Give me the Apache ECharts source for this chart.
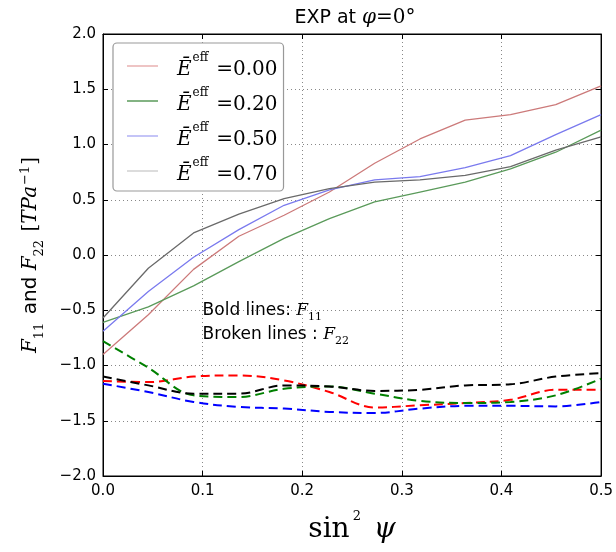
<!DOCTYPE html>
<html><head><meta charset="utf-8">
<script src="https://cdn.jsdelivr.net/npm/echarts@6/dist/echarts.min.js"></script>
<style>html,body{margin:0;padding:0;background:#fff}#c{width:616px;height:552px}</style>
</head><body><div id="c"></div>
<script>
// x values: sin^2 psi
var xs = [0, 0.0455, 0.0909, 0.1364, 0.1818, 0.2273, 0.2727, 0.3182, 0.3636, 0.4091, 0.4545, 0.5];
var effLabels = ['0.00', '0.20', '0.50', '0.70'];
// F11 (solid)
var f11_000 = [-0.90, -0.54, -0.13, 0.17, 0.36, 0.57, 0.83, 1.05, 1.22, 1.27, 1.36, 1.53];
var f11_020 = [-0.61, -0.47, -0.28, -0.06, 0.15, 0.33, 0.48, 0.57, 0.66, 0.78, 0.93, 1.13];
var f11_050 = [-0.69, -0.33, -0.02, 0.23, 0.45, 0.59, 0.68, 0.71, 0.79, 0.90, 1.09, 1.27];
var f11_070 = [-0.57, -0.12, 0.20, 0.37, 0.51, 0.60, 0.66, 0.68, 0.72, 0.80, 0.95, 1.07];
// F22 (dashed)
var f22_000 = [-1.14, -1.15, -1.10, -1.09, -1.135, -1.24, -1.38, -1.36, -1.34, -1.31, -1.22, -1.22];
var f22_020 = [-0.78, -1.02, -1.27, -1.285, -1.21, -1.19, -1.255, -1.32, -1.34, -1.33, -1.27, -1.12];
var f22_050 = [-1.165, -1.24, -1.33, -1.375, -1.39, -1.42, -1.43, -1.39, -1.365, -1.365, -1.37, -1.33];
var f22_070 = [-1.10, -1.18, -1.255, -1.255, -1.18, -1.19, -1.23, -1.22, -1.18, -1.17, -1.10, -1.07];
var yTicks = [-2.0, -1.5, -1.0, -0.5, 0.0, 0.5, 1.0, 1.5, 2.0];
var xTicks = [0.0, 0.1, 0.2, 0.3, 0.4, 0.5];

function pairs(ys){ return xs.map(function(x,i){ return [x, ys[i]]; }); }
var solidColors = ['#cc7a7a', '#5a9a5a', '#7a7aee', '#6a6a6a'];
var legendColors = ['#e8b0b0', '#5a9a5a', '#b0b0f4', '#d0d0d0'];
var dashColors = ['#ff0000', '#008000', '#0000ff', '#000000'];
var solidData = [f11_000, f11_020, f11_050, f11_070];
var dashData = [f22_000, f22_020, f22_050, f22_070];

var series = [];
solidData.forEach(function(d, i){
  series.push({ name: effLabels[i], type: 'line', data: pairs(d), symbol: 'none',
    lineStyle: { color: solidColors[i], width: 1.3 }, itemStyle: { color: solidColors[i] }, z: 3 });
});
dashData.forEach(function(d, i){
  series.push({ name: 'F22 ' + effLabels[i], type: 'line', data: pairs(d), symbol: 'none', smooth: 0.35,
    lineStyle: { color: dashColors[i], width: 2, type: [9, 5] }, itemStyle: { color: dashColors[i] }, z: 2 });
});

var serif = 'DejaVu Serif';
var sans = 'DejaVu Sans';
function fmt(v){ return v.toFixed(1).replace('-', '\u2212'); }

var chart = echarts.init(document.getElementById('c'), null, { renderer: 'canvas' });
chart.setOption({
  animation: false,
  backgroundColor: '#fff',
  title: {
    text: '{s|EXP at }{m|\u03c6}{n|=0\u00b0}',
    left: 350, top: 3, textAlign: 'center',
    textStyle: { fontWeight: 'normal', rich: {
      s: { fontFamily: sans, fontSize: 19, fontWeight: 'normal', color: '#000' },
      m: { fontFamily: serif, fontStyle: 'italic', fontSize: 20, fontWeight: 'normal', color: '#000' },
      n: { fontFamily: serif, fontSize: 20, fontWeight: 'normal', color: '#000' }
    } }
  },
  grid: { left: 103, right: 12, top: 34, bottom: 76, show: true, borderColor: '#000', borderWidth: 1 },
  legend: {
    orient: 'vertical', left: 113, top: 43,
    icon: 'rect',
    data: effLabels.map(function(n, i){ return { name: n, itemStyle: { color: legendColors[i] } }; }),
    itemWidth: 31, itemHeight: 1.5, itemGap: 7,
    padding: [9, 6, 6, 14],
    backgroundColor: '#fff', borderColor: '#999', borderWidth: 1.2, borderRadius: 4,
    formatter: function(n){ return '{e|\u0112}{s|eff}{v|=' + n + '}'; },
    textStyle: { rich: {
      e: { fontFamily: serif, fontStyle: 'italic', fontSize: 20, color: '#000', lineHeight: 28, verticalAlign: 'bottom', padding: [0, 0, 0, 14] },
      s: { fontFamily: serif, fontSize: 12, color: '#000', verticalAlign: 'top', padding: [0, 8, 0, 1] },
      v: { fontFamily: serif, fontSize: 20, color: '#000', lineHeight: 28, verticalAlign: 'bottom' }
    } }
  },
  xAxis: [{
    type: 'value', min: 0, max: 0.5, interval: 0.1,
    axisLine: { show: true, onZero: false, lineStyle: { color: '#000' } },
    axisTick: { show: true, inside: true, length: 5, lineStyle: { color: '#000' } },
    axisLabel: { formatter: fmt, fontFamily: sans, fontSize: 15, color: '#000', margin: 8 },
    splitLine: { show: true, lineStyle: { color: '#888', type: [1, 3], width: 1 } },
    name: '{r|sin}{p|2}{i| \u03c8}', nameLocation: 'middle', nameGap: 34,
    nameTextStyle: { rich: {
      r: { fontFamily: serif, fontSize: 28, color: '#000', verticalAlign: 'bottom', lineHeight: 34 },
      p: { fontFamily: serif, fontSize: 13, color: '#000', verticalAlign: 'top', padding: [0, 4, 0, 3] },
      i: { fontFamily: serif, fontStyle: 'italic', fontSize: 28, color: '#000', verticalAlign: 'bottom', lineHeight: 34 }
    } }
  }, {
    type: 'value', min: 0, max: 0.5, interval: 0.1, position: 'top',
    axisLine: { show: true, onZero: false, lineStyle: { color: '#000' } },
    axisTick: { show: true, inside: true, length: 5, lineStyle: { color: '#000' } },
    axisLabel: { show: false }, splitLine: { show: false }
  }],
  yAxis: [{
    type: 'value', min: -2, max: 2, interval: 0.5,
    axisLine: { show: true, onZero: false, lineStyle: { color: '#000' } },
    axisTick: { show: true, inside: true, length: 5, lineStyle: { color: '#000' } },
    axisLabel: { formatter: fmt, fontFamily: sans, fontSize: 15, color: '#000', margin: 7 },
    splitLine: { show: true, lineStyle: { color: '#888', type: [1, 3], width: 1 } },
    name: '{f|F}{b|11}{t| and }{f|F}{b|22}{g| [}{f|TPa}{p|\u22121}{g|]}',
    nameLocation: 'middle', nameRotate: 90, nameGap: 57,
    nameTextStyle: { rich: {
      f: { fontFamily: serif, fontStyle: 'italic', fontSize: 20, color: '#000', lineHeight: 30, verticalAlign: 'middle' },
      g: { fontFamily: serif, fontSize: 20, color: '#000', lineHeight: 30, verticalAlign: 'middle' },
      t: { fontFamily: sans, fontSize: 20, color: '#000', lineHeight: 30, verticalAlign: 'middle' },
      b: { fontFamily: serif, fontSize: 13, color: '#000', verticalAlign: 'bottom', padding: [0, 2, 0, 0] },
      p: { fontFamily: serif, fontSize: 13, color: '#000', verticalAlign: 'top', padding: [3, 1, 0, 1] }
    } }
  }, {
    type: 'value', min: -2, max: 2, interval: 0.5, position: 'right',
    axisLine: { show: true, onZero: false, lineStyle: { color: '#000' } },
    axisTick: { show: true, inside: true, length: 5, lineStyle: { color: '#000' } },
    axisLabel: { show: false }, splitLine: { show: false }
  }],
  series: series
});

// annotation anchored at data coordinates
var p1 = chart.convertToPixel({ xAxisIndex: 0, yAxisIndex: 0 }, [0.1, -0.5]);
chart.setOption({
  graphic: [{
    type: 'text', left: p1[0], top: p1[1] - 8, z: 10,
    style: {
      text: '{s|Bold lines: }{f|F}{b|11}\n{s|Broken lines : }{f|F}{b|22}',
      rich: {
        s: { fontFamily: sans, fontSize: 17, fill: '#000', lineHeight: 24, verticalAlign: 'middle' },
        f: { fontFamily: serif, fontStyle: 'italic', fontSize: 17, fill: '#000', lineHeight: 24, verticalAlign: 'middle' },
        b: { fontFamily: serif, fontSize: 11, fill: '#000', verticalAlign: 'bottom' }
      }
    }
  }]
});
</script></body></html>
